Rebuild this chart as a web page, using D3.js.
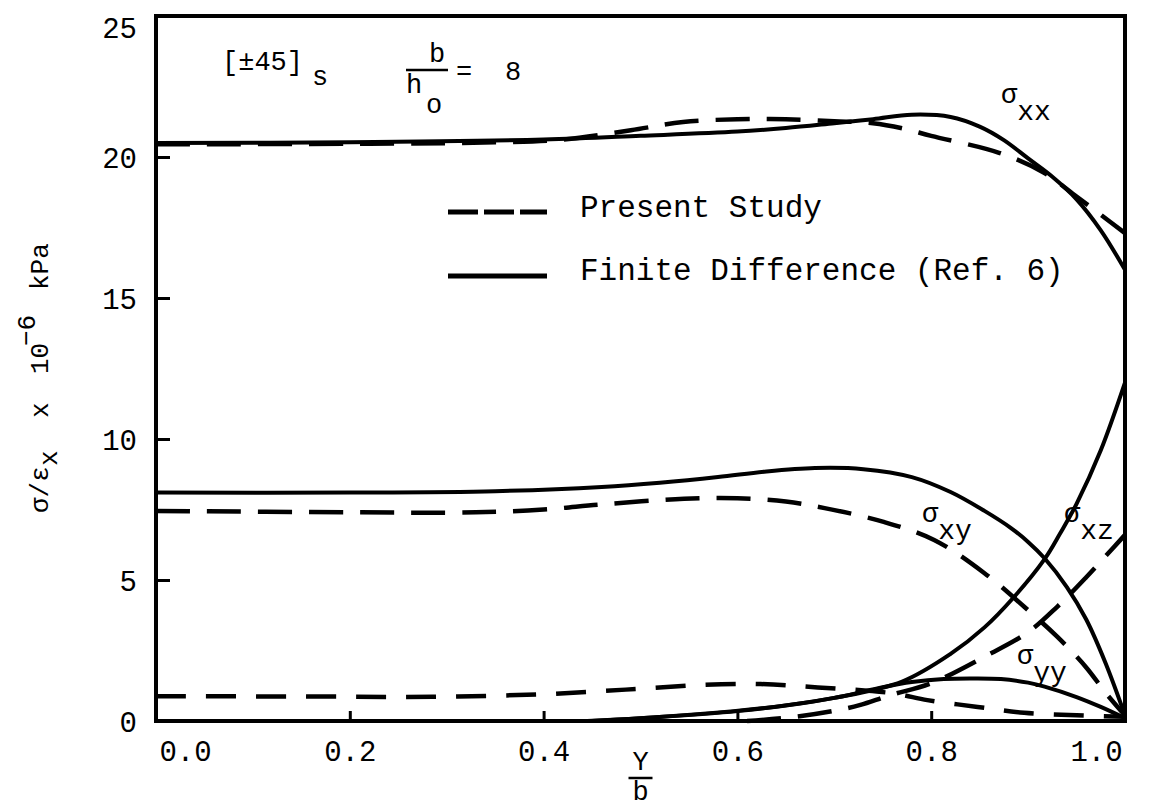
<!DOCTYPE html>
<html><head><meta charset="utf-8">
<script src="https://cdn.jsdelivr.net/npm/d3@7"></script>
<style>
body{margin:0;background:#fff}
text{font-family:"Liberation Mono","Courier New",monospace;fill:#000}
</style>
</head><body>
<svg id="c" width="1159" height="810"></svg>
<script>
// ---- data ----
const xTickValues = [0, 0.2, 0.4, 0.6, 0.8, 1.0];
const yTickValues = [0, 5, 10, 15, 20, 25];
const legendLabels = ["Present Study", "Finite Difference (Ref. 6)"];

// Finite Difference (solid) series: [y/b, sigma/eps]
const sxxFD = [[0,20.5],[0.2,20.52],[0.4,20.62],[0.5,20.75],[0.6,20.9],[0.65,21.03],[0.7,21.2],[0.74,21.34],[0.78,21.5],[0.82,21.42],[0.85,21.08],[0.875,20.6],[0.9,19.95],[0.925,19.3],[0.95,18.5],[0.975,17.4],[1.0,16.0]];
const sxyFD = [[0,8.1],[0.2,8.1],[0.35,8.15],[0.46,8.3],[0.52,8.45],[0.58,8.65],[0.63,8.85],[0.68,8.97],[0.73,8.93],[0.78,8.65],[0.82,8.12],[0.855,7.45],[0.882,6.85],[0.9,6.35],[0.917,5.77],[0.94,4.75],[0.96,3.6],[0.98,2.05],[1.0,0.2]];
const sxzFD = [[0.445,0],[0.5,0.1],[0.596,0.35],[0.65,0.55],[0.7,0.82],[0.77,1.4],[0.82,2.38],[0.855,3.32],[0.885,4.38],[0.917,5.74],[0.933,6.65],[0.95,7.7],[0.975,9.6],[1.0,12.0]];
const syyFD = [[0.45,0],[0.5,0.1],[0.6,0.35],[0.7,0.82],[0.75,1.2],[0.78,1.38],[0.813,1.49],[0.84,1.51],[0.872,1.49],[0.9,1.36],[0.917,1.22],[0.95,0.85],[0.975,0.5],[1.0,0.1]];

// Present Study (dashed) series
const sxxPS = [[0,20.45],[0.2,20.47],[0.35,20.52],[0.42,20.62],[0.49,20.95],[0.544,21.24],[0.6,21.34],[0.65,21.34],[0.7,21.27],[0.74,21.2],[0.77,21.02],[0.8,20.75],[0.87,20.15],[0.916,19.45],[0.95,18.6],[0.975,17.95],[1.0,17.3]];
const sxyPS = [[0,7.45],[0.2,7.4],[0.33,7.4],[0.4,7.5],[0.46,7.68],[0.545,7.88],[0.6,7.9],[0.65,7.78],[0.69,7.55],[0.75,7.07],[0.803,6.42],[0.855,5.24],[0.896,4.05],[0.93,2.99],[0.96,1.9],[0.98,1.0],[1.0,0.2]];
const sxzPS = [[0.61,0],[0.66,0.15],[0.71,0.43],[0.727,0.57],[0.758,0.92],[0.8,1.34],[0.855,2.28],[0.9,3.15],[0.93,4.05],[0.96,5.1],[0.98,5.85],[1.0,6.6]];
const syyPS = [[0,0.88],[0.15,0.87],[0.286,0.86],[0.4,0.95],[0.459,1.06],[0.507,1.16],[0.562,1.28],[0.624,1.31],[0.683,1.19],[0.761,0.98],[0.796,0.74],[0.848,0.5],[0.896,0.29],[0.95,0.2],[1.0,0.15]];

// ---- drawing ----
const svg = d3.select("#c");
const x = d3.scaleLinear().domain([0, 1]).range([156, 1125]);
const y = d3.scaleLinear().domain([0, 25]).range([721, 16]);
const line = d3.line().x(d => x(d[0])).y(d => y(d[1])).curve(d3.curveCatmullRom.alpha(0.5));

const FS_TICK = 29;

// frame
svg.append("rect").attr("x", x(0)).attr("y", y(25))
  .attr("width", x(1) - x(0)).attr("height", y(0) - y(25))
  .attr("fill", "none").attr("stroke", "#000").attr("stroke-width", 4);

// bottom axis
const gx = svg.append("g").attr("transform", `translate(0,${y(0)})`)
  .call(d3.axisBottom(x).tickValues(xTickValues).tickFormat(d3.format(".1f")).tickSizeInner(-10).tickSizeOuter(0));
gx.select(".domain").remove();
gx.selectAll(".tick line").attr("stroke-width", 3).filter(d => d === 0 || d === 1).remove();
gx.selectAll(".tick text").attr("y", 40).attr("dy", null)
  .style("font-size", FS_TICK + "px").style("font-family", '"Liberation Mono",monospace')
  .attr("dx", d => d === 0 ? 29 : (d === 1 ? -29 : 0));

// left axis
const gy = svg.append("g").attr("transform", `translate(${x(0)},0)`)
  .call(d3.axisLeft(y).tickValues(yTickValues).tickSizeInner(-14).tickSizeOuter(0));
gy.select(".domain").remove();
gy.selectAll(".tick line").attr("stroke-width", 3).filter(d => d === 0 || d === 25).remove();
gy.selectAll(".tick text").attr("x", -19).attr("dy", d => d === 25 ? "0.75em" : "0.35em")
  .style("font-size", FS_TICK + "px").style("font-family", '"Liberation Mono",monospace');

// curves
const solids = [sxxFD, sxyFD, sxzFD, syyFD];
const dashes = [sxxPS, sxyPS, sxzPS, syyPS];
svg.append("g").selectAll("path").data(solids).join("path")
  .attr("d", line).attr("fill", "none").attr("stroke", "#000").attr("stroke-width", 4);
svg.append("g").selectAll("path").data(dashes).join("path")
  .attr("d", line).attr("fill", "none").attr("stroke", "#000").attr("stroke-width", 4.5)
  .attr("stroke-dasharray", (d, i) => i === 3 ? "30,20" : "34,17");

// legend
const lg = svg.append("g");
lg.append("line").attr("x1", 448).attr("x2", 547).attr("y1", 212).attr("y2", 212)
  .attr("stroke", "#000").attr("stroke-width", 5).attr("stroke-dasharray", "30,6");
lg.append("line").attr("x1", 448).attr("x2", 547).attr("y1", 276).attr("y2", 276)
  .attr("stroke", "#000").attr("stroke-width", 5);
lg.append("text").attr("x", 580).attr("y", 217).style("font-size", "31px").text(legendLabels[0]);
lg.append("text").attr("x", 580).attr("y", 280).style("font-size", "31px").text(legendLabels[1]);

// curve labels
function sigmaLabel(px, py, sub) {
  const t = svg.append("text").attr("x", px).attr("y", py).style("font-size", "27px");
  t.append("tspan").text("σ");
  t.append("tspan").attr("dy", 17).style("font-size", "28px").text(sub);
}
sigmaLabel(1001, 103, "xx");
sigmaLabel(922, 522, "xy");
sigmaLabel(1064, 522, "xz");
sigmaLabel(1017, 664, "yy");

// annotation [±45]s  b/h_o = 8
svg.append("text").attr("x", 222).attr("y", 70).style("font-size", "27px").text("[±45]");
svg.append("text").attr("x", 312).attr("y", 85).style("font-size", "27px").text("s");
svg.append("text").attr("x", 429).attr("y", 62).style("font-size", "27px").text("b");
svg.append("line").attr("x1", 406).attr("x2", 448).attr("y1", 70).attr("y2", 70).attr("stroke", "#000").attr("stroke-width", 2.5);
svg.append("text").attr("x", 406).attr("y", 93).style("font-size", "27px").text("h");
svg.append("text").attr("x", 426).attr("y", 113).style("font-size", "27px").text("o");
svg.append("text").attr("x", 456).attr("y", 80).style("font-size", "27px").text("=");
svg.append("text").attr("x", 505).attr("y", 80).style("font-size", "27px").text("8");

// x axis label  Y over b
const xl = x(0.5);
svg.append("text").attr("x", xl).attr("y", 770).attr("text-anchor", "middle").style("font-size", "27px").text("Y");
svg.append("line").attr("x1", xl - 12).attr("x2", xl + 12).attr("y1", 778).attr("y2", 778).attr("stroke", "#000").attr("stroke-width", 2.5);
svg.append("text").attr("x", xl).attr("y", 800).attr("text-anchor", "middle").style("font-size", "27px").text("b");

// y axis label (rotated)
const yl = svg.append("text").attr("transform", "translate(48,0) rotate(-90)").style("font-size", "26px");
yl.append("tspan").attr("x", -513).attr("y", 0).text("σ/ε");
yl.append("tspan").attr("x", -466).attr("y", 9).text("x");
yl.append("tspan").attr("x", -418).attr("y", 0).text("x");
yl.append("tspan").attr("x", -374).attr("y", 0).text("10");
yl.append("tspan").attr("x", -346).attr("y", -13).text("−6");
yl.append("tspan").attr("x", -290).attr("y", 0).text("kPa");
</script>
</body></html>
